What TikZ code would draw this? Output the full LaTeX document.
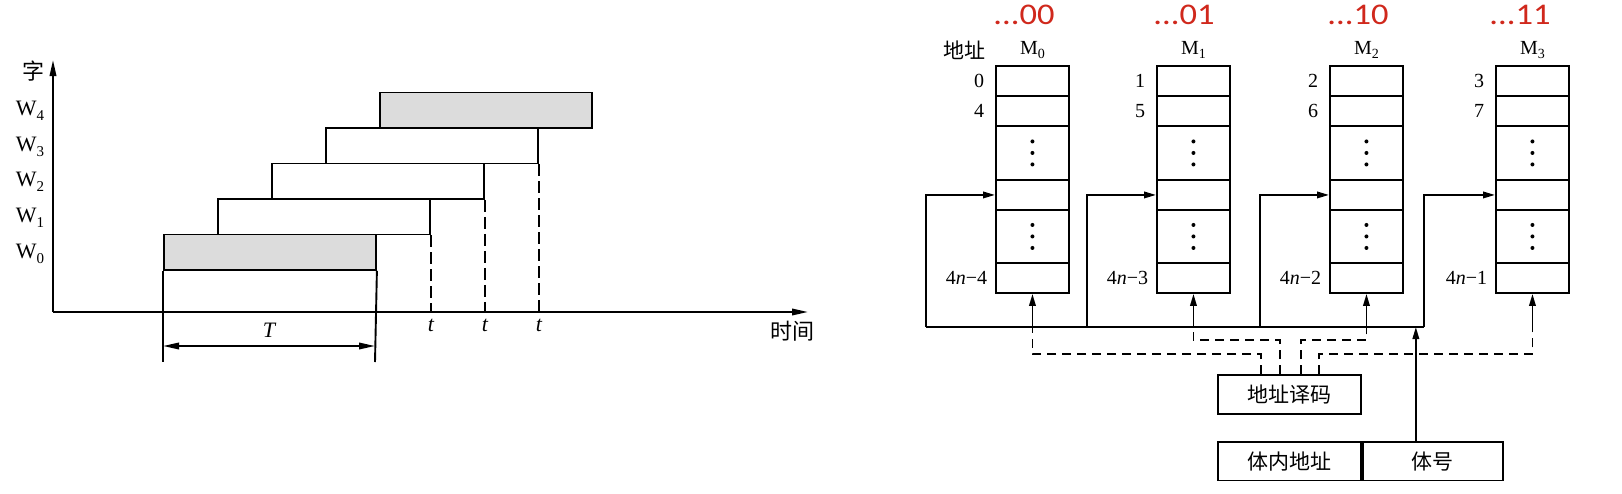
\documentclass[tikz,border=0pt]{standalone}
\usepackage{fontspec}
\setmainfont{Liberation Serif}
\newfontfamily\cjk{Noto Sans CJK SC}
\newfontfamily\redfont{Carlito}
\usetikzlibrary{arrows.meta}
\definecolor{labred}{RGB}{208,40,28}
\definecolor{boxgray}{RGB}{220,220,220}
\newcommand{\subsc}[2][14]{\raisebox{-0.45ex}{\fontsize{#1}{#1}\selectfont #2}}
\newcommand{\widetxt}[1]{\scalebox{1.15}[1]{#1}}
\begin{document}
\begin{tikzpicture}[x=1pt,y=-1pt,line width=1.9pt,
  lab/.style={font=\fontsize{22}{24}\selectfont, inner sep=0pt},
  rlab/.style={font=\fontsize{20}{22}\selectfont, inner sep=0pt},
  cjklab/.style={font=\cjk\fontsize{21}{23}\selectfont, inner sep=0pt},
  cjkbig/.style={font=\cjk\fontsize{22}{24}\selectfont, inner sep=0pt},
  redlab/.style={font=\redfont\fontsize{30}{31}\selectfont, text=labred, inner sep=0pt},
  wbox/.style={draw, minimum width=212pt, minimum height=35.5pt, anchor=north west, inner sep=0pt},
  cell/.style={draw, minimum width=73pt, anchor=north west, inner sep=0pt},
  arr/.style={-{Triangle[length=12pt,width=6.5pt]}},
  axarr/.style={-{Triangle[length=16pt,width=6.5pt]}},
  dsh/.style={dash pattern=on 9pt off 6pt},
  ldsh/.style={dash pattern=on 12pt off 5pt},
]
\fill[white] (0,0) rectangle (1622,493);
\useasboundingbox (0,0) rectangle (1622,493);

% ---------------- left diagram ----------------
\coordinate (O) at (53,312);
\coordinate (ytop) at (53,60);
\coordinate (xend) at (808,312);
\draw[axarr] (O) -- (ytop);
\draw[axarr] (O) -- (xend);
\node[cjkbig] (zi) at (34,71) {字};
\node[cjkbig] (shijian) at (792,331) {时间};

\node[wbox, fill=boxgray] (w0) at (163,233.5) {};
\node[wbox] (w1) at (217,198) {};
\node[wbox] (w2) at (271,162.5) {};
\node[wbox] (w3) at (325,127) {};
\node[wbox, fill=boxgray] (w4) at (379,91.5) {};

\node[lab] (lw0) at (30,254) {W\subsc[15]{0}};
\node[lab] (lw1) at (30,218) {W\subsc[15]{1}};
\node[lab] (lw2) at (30,182) {W\subsc[15]{2}};
\node[lab] (lw3) at (30,147) {W\subsc[15]{3}};
\node[lab] (lw4) at (30,111) {W\subsc[15]{4}};

\coordinate (Tl) at (163,362);
\coordinate (Tr) at (375,362);
\draw (w0.south west) -- (Tl);
\draw (w0.south east) -- (Tr);
\coordinate (Ta) at (163,346);
\coordinate (Tb) at (375,346);
\draw[{Triangle[length=16pt,width=6.5pt]}-{Triangle[length=16pt,width=6.5pt]}] (Ta) -- (Tb);
\node[lab] (T) at (269,330) {\itshape T};

\draw[ldsh] (w1.south east) -- (w1.south east |- O);
\draw[ldsh] (w2.south east) -- (w2.south east |- O);
\draw[ldsh] (w3.south east) -- (w3.south east |- O);
\node[lab] (t1) at (w1.south east |- 0,325) {\itshape t};
\node[lab] (t2) at (w2.south east |- 0,325) {\itshape t};
\node[lab] (t3) at (w3.south east |- 0,325) {\itshape t};

% ---------------- right diagram ----------------
\foreach \i/\x in {0/995,1/1156,2/1329,3/1495} {
  \node[cell, minimum height=30pt] (m\i-a) at (\x,65) {};
  \node[cell, minimum height=30pt] (m\i-b) at (\x,95) {};
  \node[cell, minimum height=54pt] (m\i-c) at (\x,125) {};
  \node[cell, minimum height=30pt] (m\i-d) at (\x,179) {};
  \node[cell, minimum height=53pt] (m\i-e) at (\x,209) {};
  \node[cell, minimum height=30pt] (m\i-f) at (\x,262) {};
  \foreach \d in {-11.5,0,11.5} {
    \fill ([yshift=\d pt]m\i-c.center) circle (2pt);
    \fill ([yshift=\d pt]m\i-e.center) circle (2pt);
  }
  \node[rlab] (ml\i) at (m\i-a.north |- 0,50) {M\subsc{\i}};
}

\node[redlab] (r0) at (1024,15) {\widetxt{...00}};
\node[redlab] (r1) at (1184,15) {\widetxt{...01}};
\node[redlab] (r2) at (1358,15) {\widetxt{...10}};
\node[redlab] (r3) at (1520,15) {\widetxt{...11}};
\node[cjklab] (addr) at (964,50) {地址};

\node[rlab, anchor=east] (a0) at ([xshift=-10pt]m0-a.west) {0};
\node[rlab, anchor=east] (b0) at ([xshift=-10pt]m0-b.west) {4};
\node[rlab, anchor=east] (a1) at ([xshift=-10pt]m1-a.west) {1};
\node[rlab, anchor=east] (b1) at ([xshift=-10pt]m1-b.west) {5};
\node[rlab, anchor=east] (a2) at ([xshift=-10pt]m2-a.west) {2};
\node[rlab, anchor=east] (b2) at ([xshift=-10pt]m2-b.west) {6};
\node[rlab, anchor=east] (a3) at ([xshift=-10pt]m3-a.west) {3};
\node[rlab, anchor=east] (b3) at ([xshift=-10pt]m3-b.west) {7};
\node[rlab, anchor=east] (n0) at ([xshift=-7pt]m0-f.west) {4\textit{n}−4};
\node[rlab, anchor=east] (n1) at ([xshift=-7pt]m1-f.west) {4\textit{n}−3};
\node[rlab, anchor=east] (n2) at ([xshift=-7pt]m2-f.west) {4\textit{n}−2};
\node[rlab, anchor=east] (n3) at ([xshift=-7pt]m3-f.west) {4\textit{n}−1};

% bus and feed arrows
\coordinate (f0) at (926,327);
\coordinate (f1) at (1087,327);
\coordinate (f2) at (1260,327);
\coordinate (f3) at (1424,327);
\draw (f0) -- (f3);
\draw[arr] (f0) |- (m0-d.west);
\draw[arr] (f1) |- (m1-d.west);
\draw[arr] (f2) |- (m2-d.west);
\draw[arr] (f3) |- (m3-d.west);

% decoder and address register
\node[draw, cjklab, minimum width=143pt, minimum height=39pt, anchor=north west] (dec) at (1217,374) {地址译码};
\node[draw, cjklab, minimum width=143pt, minimum height=38.5pt, anchor=north west] (bn) at (1217,441) {体内地址};
\node[draw, cjklab, minimum width=140pt, minimum height=38.5pt, anchor=north west] (bh) at (bn.north east) {体号};
\draw[arr] ([xshift=-17pt]bh.north) -- ([xshift=-17pt]bh.north |- f0);

% dashed select lines
\draw[dsh] ([xshift=44pt]dec.north west) -- ++(0,-20) -| (m0-f.south |- f0);
\draw[dsh] ([xshift=63pt]dec.north west) -- ++(0,-34) -| (m1-f.south |- f0);
\draw[dsh] ([xshift=84pt]dec.north west) -- ++(0,-34) -| (m2-f.south |- f0);
\draw[dsh] ([xshift=102pt]dec.north west) -- ++(0,-20) -| (m3-f.south |- f0);
\draw[arr] (m0-f.south |- f0) -- (m0-f.south);
\draw[arr] (m1-f.south |- f0) -- (m1-f.south);
\draw[arr] (m2-f.south |- f0) -- (m2-f.south);
\draw[arr] (m3-f.south |- f0) -- (m3-f.south);
\end{tikzpicture}
\end{document}
